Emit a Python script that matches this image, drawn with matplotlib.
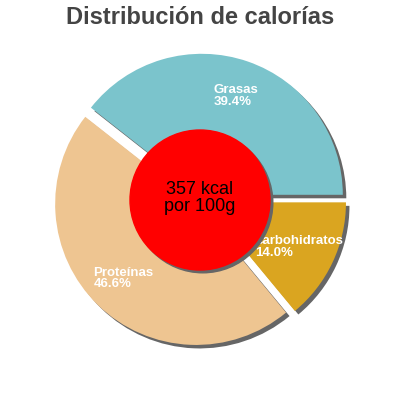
import matplotlib
matplotlib.use("Agg")
import matplotlib.pyplot as plt
from matplotlib.patches import Circle
import numpy as np

# data
labels = ["Grasas", "Proteínas", "carbohidratos"]
values = [39.4, 46.6, 14.0]
colors = ["#7bc4cc", "#eec591", "#daa520"]
center_text = "357 kcal\npor 100g"
title = "Distribución de calorías"

plt.rcParams['font.family'] = ['Liberation Sans', 'DejaVu Sans']

fig = plt.figure(figsize=(4, 4), dpi=100)
ax = fig.add_axes([0, 0, 1, 1])

cy = 0
R = 141
expl = [5.5] * len(values)
sh = 3.5

# shadow pie
ax.pie(values, colors=["#666666"] * 3, radius=R, explode=expl, startangle=0,
       counterclock=True, center=(sh, cy - sh), frame=True,
       wedgeprops=dict(linewidth=0))
wedges, _ = ax.pie(values, colors=colors, radius=R, explode=expl, startangle=0,
                   counterclock=True, center=(0, cy), frame=True,
                   wedgeprops=dict(linewidth=0))
ax.set_xlim(-200, 200)
ax.set_ylim(-200, 200)
ax.set_aspect('equal')
ax.axis('off')

# slice labels
for w, lab, v in zip(wedges, labels, values):
    ang = np.deg2rad((w.theta1 + w.theta2) / 2)
    cx, cyw = w.center
    d = 0.74 * R
    ax.text(cx + d * np.cos(ang), cyw + d * np.sin(ang), f"{lab}\n{v:.1f}%",
            ha='center', va='center', multialignment='left', color='white',
            fontsize=9.5, fontweight='bold', linespacing=0.95)

# center circle
ax.add_patch(Circle((sh * 0.8, cy - sh * 0.8), 70, color="#666666", zorder=3))
ax.add_patch(Circle((0, cy), 70, color="#ff0000", zorder=4))
ax.text(0, cy + 2, center_text, ha='center', va='center', fontsize=13,
        color='black', zorder=5, linespacing=0.95)

fig.text(0.5, 1 - 18 / 400, title, ha='center', va='center', fontsize=17,
         fontweight='bold', color='#444444')

fig.savefig("out.png", dpi=100)
